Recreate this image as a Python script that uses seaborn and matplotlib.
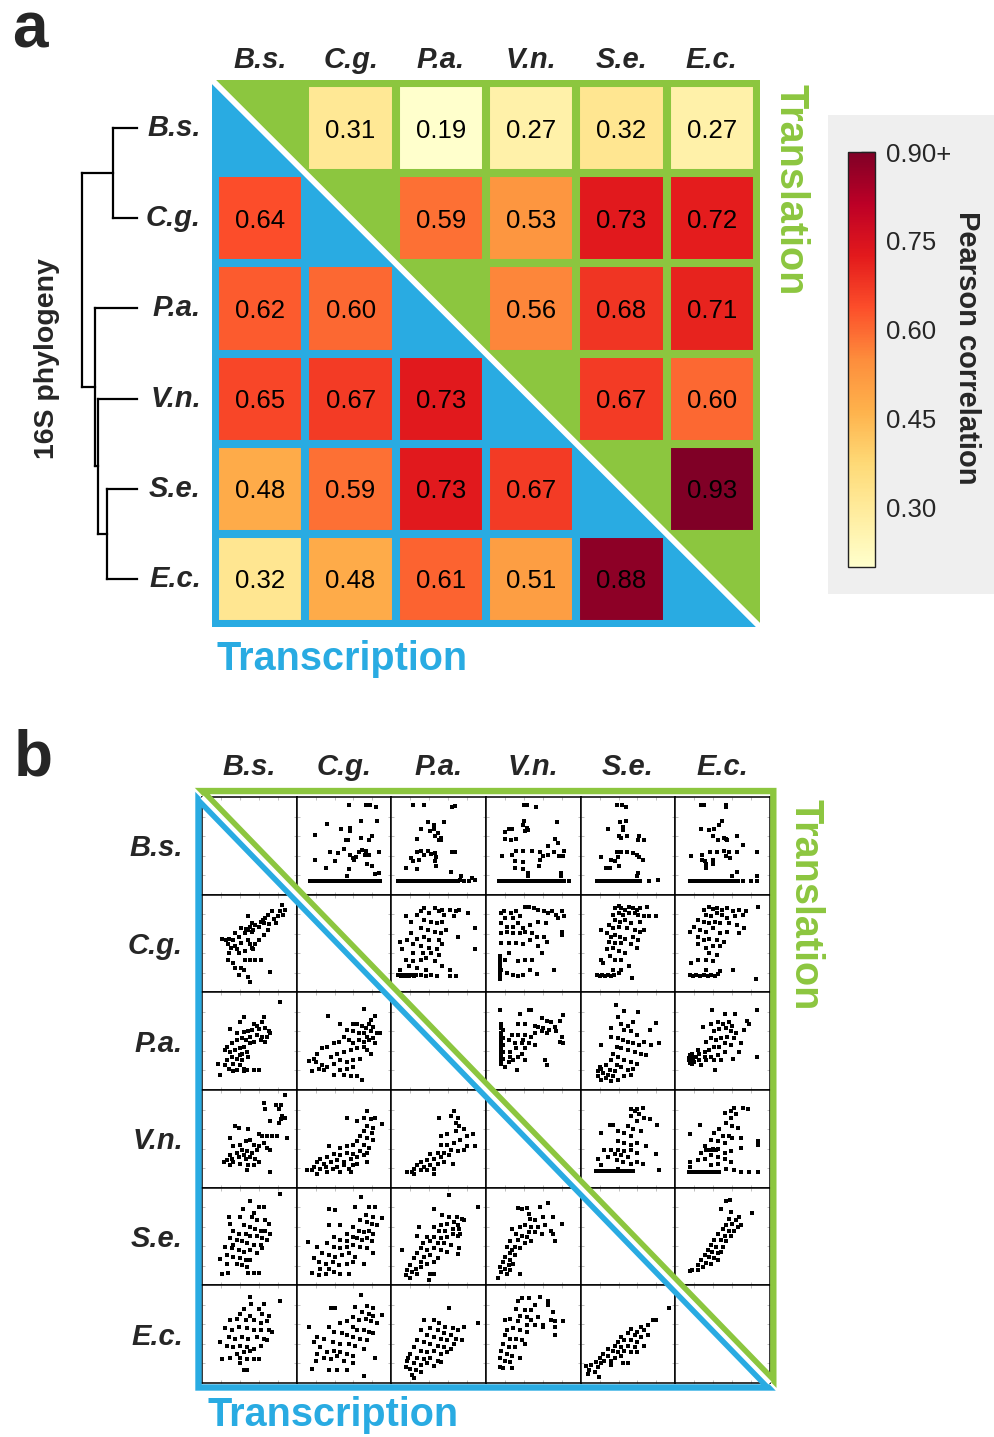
import numpy as np
import pandas as pd
import matplotlib
matplotlib.use("Agg")
import matplotlib.pyplot as plt
import seaborn as sns
from matplotlib.patches import Polygon, Rectangle
from matplotlib.collections import LineCollection

sns.set_style("white")
plt.rcParams["font.family"] = ["Liberation Sans", "DejaVu Sans"]

W, H = 995, 1437
GREEN = "#8CC63F"
BLUE = "#29ABE2"

species = ["B.s.", "C.g.", "P.a.", "V.n.", "S.e.", "E.c."]

# Pearson correlations, translation (upper triangle), row by row
tl_row_bs = [0.31, 0.19, 0.27, 0.32, 0.27]
tl_row_cg = [0.59, 0.53, 0.73, 0.72]
tl_row_pa = [0.56, 0.68, 0.71]
tl_row_vn = [0.67, 0.60]
tl_row_se = [0.93]
# Pearson correlations, transcription (lower triangle), row by row
tx_row_cg = [0.64]
tx_row_pa = [0.62, 0.60]
tx_row_vn = [0.65, 0.67, 0.73]
tx_row_se = [0.48, 0.59, 0.73, 0.67]
tx_row_ec = [0.32, 0.48, 0.61, 0.51, 0.88]

cbar_ticks = [0.30, 0.45, 0.60, 0.75, 0.90]
cbar_ticklabels = ["0.30", "0.45", "0.60", "0.75", "0.90+"]

# 16S tree: (child a, child b, merge height); new clusters numbered from 6
tree_merges = [(0, 1, 24), (4, 5, 30), (3, 7, 39), (2, 8, 42), (6, 9, 55)]

# Scatter clouds, "x,y" in percent of each panel (tl = translation, tx = transcription)
tl_bs_cg = ("55,92 73,92 77,92 84,90 32,72 68,75 85,75 47,67 56,68 56,65 19,61 80,60 68,58 54,56 52,56 76,56 "
            "35,44 44,43 50,47 56,41 59,38 63,39 66,44 69,46 73,45 76,41 87,44 72,41 61,36 19,35 41,34 74,31 "
            "80,29 31,27 55,26 87,22 83,21 53,19 14,14 16,14 18,14 20,14 22,14 24,14 26,14 28,14 30,14 33,14 "
            "36,14 38,14 40,14 42,14 44,14 46,14 48,14 50,14 52,14 54,14 56,14 58,14 60,14 62,14 64,14 66,14 "
            "70,14 72,14 74,14 77,14 80,14 82,14 84,14 86,14 88,14")
tl_bs_pa = ("23,92 34,92 64,90 67,91 39,74 56,74 45,71 31,67 41,65 45,67 49,63 46,60 52,58 50,56 52,56 27,57 "
            "39,45 42,42 46,43 47,39 31,45 34,41 27,44 64,44 67,44 21,38 23,34 29,36 46,34 15,27 27,26 47,29 "
            "63,23 74,19 85,17 7,14 9,14 11,14 13,14 15,14 17,14 19,14 21,14 23,14 25,14 27,14 29,14 31,14 "
            "33,14 35,14 37,14 39,14 41,14 43,14 45,14 47,14 49,14 51,14 53,14 55,14 57,14 59,14 61,14 63,14 "
            "65,14 67,14 70,14 73,15 77,14 82,14 88,15")
tl_bs_vn = ("40,92 43,92 53,90 40,75 39,71 43,68 41,65 44,66 24,67 27,67 20,64 75,74 20,57 26,56 32,57 73,57 "
            "76,53 66,50 39,45 32,45 27,41 17,40 49,45 57,44 60,40 72,44 77,40 82,45 81,40 65,41 31,34 39,33 "
            "57,35 56,29 31,27 39,26 44,22 44,19 79,22 79,19 14,14 16,14 18,14 20,14 22,14 24,14 26,14 28,14 "
            "30,14 32,14 34,14 36,14 38,14 40,14 42,14 44,14 46,14 48,14 50,14 52,14 54,14 56,14 58,14 60,14 "
            "62,14 65,14 70,14 74,14 78,14 82,14 88,14")
tl_bs_se = ("38,92 44,92 48,90 42,74 48,75 45,69 45,66 29,67 40,60 43,58 49,60 62,60 67,56 61,56 22,39 32,36 "
            "36,34 39,39 43,44 49,44 55,43 59,41 62,39 66,36 38,44 40,29 27,27 31,27 61,22 60,19 17,14 19,14 "
            "21,14 23,14 25,14 27,14 29,14 31,14 33,14 35,14 37,14 39,14 41,14 43,14 45,14 47,14 49,14 51,14 "
            "53,14 55,14 58,14 63,14 72,14 82,15")
tl_bs_ec = ("27,92 30,92 53,92 53,90 49,75 46,71 41,67 27,67 36,66 40,60 51,58 54,57 45,56 55,56 65,60 72,51 "
            "17,40 28,41 31,34 32,31 32,27 40,35 40,31 28,35 37,44 44,44 51,45 53,40 57,44 58,38 65,44 86,44 "
            "65,23 60,19 86,19 15,14 17,14 19,14 21,14 23,14 25,14 27,14 29,14 31,14 33,14 35,14 37,14 39,14 "
            "41,14 43,14 45,14 47,14 49,14 51,14 53,14 55,14 58,14 62,14 66,14 72,14 80,14 86,14")
tx_cg_bs = ("84,89 88,84 82,83 86,79 80,78 76,75 78,71 74,83 70,79 67,76 64,74 66,71 71,70 62,72 60,67 56,69 "
            "53,71 51,67 49,78 49,64 54,64 53,62 47,65 45,61 41,66 39,57 35,61 33,54 29,55 25,54 21,55 27,49 "
            "31,45 35,47 37,44 41,50 49,54 51,49 53,45 54,44 45,42 39,40 29,40 27,33 33,30 45,33 51,33 56,33 "
            "62,33 35,25 41,25 39,18 49,16 51,11 72,21 44,23 56,49 60,54 66,59 70,64")
tl_cg_pa = ("15,78 21,72 27,79 31,83 35,86 40,81 46,86 50,83 54,84 56,79 62,84 68,83 72,84 66,78 81,81 35,74 "
            "42,72 48,71 54,72 31,66 39,64 46,62 52,61 58,64 21,61 17,54 27,55 35,57 40,54 50,54 23,49 31,47 "
            "40,45 48,44 54,49 9,52 11,44 23,40 33,40 42,40 50,38 70,57 88,66 88,44 15,33 23,32 31,33 37,35 "
            "46,32 19,27 27,25 37,23 62,23 54,27 9,23 7,18 9,18 10,17 11,18 12,18 13,17 14,18 15,18 16,17 "
            "17,18 18,18 19,17 20,18 22,18 24,17 26,18 31,18 37,17 42,18 48,17 62,17 68,17")
tl_cg_vn = ("16,81 19,83 26,81 32,83 41,87 45,87 51,86 55,84 61,83 66,81 70,83 74,79 80,83 82,78 76,76 36,78 "
            "28,76 20,76 16,71 22,67 28,67 34,71 39,66 47,69 55,72 63,71 16,61 22,62 28,61 36,61 41,62 49,61 "
            "54,57 61,57 80,62 80,59 64,52 16,50 24,50 32,50 39,49 47,54 55,47 59,40 49,33 41,33 34,32 24,40 "
            "20,33 16,23 22,20 28,18 34,17 39,18 47,23 54,19 72,23 15,37 15,33 15,30 15,27 15,23 15,20 15,18 "
            "15,16 15,14")
tl_cg_se = ("36,86 40,88 43,86 47,84 51,87 55,86 59,84 63,86 70,87 51,81 57,81 61,79 67,78 72,78 80,78 34,79 "
            "40,81 45,79 36,74 42,72 47,74 53,71 63,72 30,69 34,66 40,67 49,66 57,64 63,62 67,64 22,64 28,61 "
            "32,57 36,59 42,57 47,55 55,57 61,54 30,52 36,50 43,50 53,49 59,45 28,44 34,45 40,42 47,40 31,37 "
            "36,33 43,33 22,33 24,30 51,27 54,15 34,23 17,18 20,17 23,18 26,17 29,18 32,17 35,18 40,20 43,23")
tl_cg_ec = ("30,84 36,87 40,85 44,86 49,84 55,86 61,83 67,84 75,83 87,87 32,79 38,78 44,81 49,79 55,76 63,78 "
            "71,79 24,74 30,72 36,71 42,72 47,71 57,71 65,69 73,66 20,67 26,64 32,62 40,66 47,61 55,62 67,61 "
            "15,62 24,57 30,54 36,55 44,54 51,52 24,49 32,45 40,47 47,47 36,40 44,38 32,33 40,32 24,33 17,30 "
            "61,23 85,14 32,23 15,18 19,17 22,18 26,17 30,18 34,17 38,18 42,17 45,19 47,22")
tx_pa_bs = ("82,90 44,75 40,70 65,75 63,70 58,66 55,68 30,62 37,58 44,59 49,60 53,61 60,62 67,63 71,60 72,58 "
            "69,54 63,54 58,56 51,54 46,51 42,53 37,51 32,48 26,44 24,41 30,39 35,41 40,43 44,44 51,48 55,49 "
            "62,51 67,49 40,36 37,32 42,31 32,34 26,31 24,26 33,27 40,26 44,22 48,20 55,20 60,20 37,20 19,15 "
            "17,27 28,22 33,19 44,19 49,34 48,39 42,37")
tx_pa_cg = ("33,76 71,83 83,76 79,72 76,68 81,65 73,63 69,66 64,68 59,68 53,61 60,60 66,58 71,58 74,54 78,60 "
            "85,58 88,58 81,53 76,51 71,49 66,51 60,48 55,51 50,54 45,49 39,48 32,44 27,43 22,37 18,32 13,30 "
            "20,29 27,26 32,24 29,20 24,22 16,19 36,34 43,37 50,39 57,41 64,43 71,44 74,41 46,31 53,29 60,31 "
            "67,32 39,27 46,20 53,22 60,24 39,15 50,15 57,14 64,14 69,10 78,37 83,48 46,68")
tl_pa_vn = ("15,82 45,82 48,82 36,78 59,74 69,70 81,77 78,71 64,71 34,68 41,68 52,66 55,65 60,63 67,61 73,64 "
            "74,60 80,54 78,49 81,48 59,60 64,58 52,58 48,54 41,56 34,56 27,56 24,51 31,48 38,48 45,48 52,46 "
            "41,43 32,43 25,39 38,37 34,34 29,31 24,29 41,31 62,31 64,26 33,20 20,24 25,34 39,51 16,68 16,63 "
            "16,58 16,54 16,51 16,48 16,44 16,41 16,37 16,34 16,31 16,27 18,61 18,53 18,46 18,39 18,32")
tl_pa_se = ("37,87 39,75 46,81 61,80 80,69 73,61 32,63 43,68 50,66 55,70 46,61 53,60 60,56 67,49 62,46 74,46 "
            "83,48 22,46 32,54 39,53 45,51 50,49 55,48 38,44 43,43 50,41 57,39 64,37 69,36 34,37 39,34 46,31 "
            "53,29 60,27 32,31 38,26 43,24 50,20 55,22 27,26 31,20 36,19 22,22 18,19 24,17 29,15 34,14 18,14 "
            "22,10 27,12 32,9 39,10 46,14 53,15 20,24")
tl_pa_ec = ("39,82 52,78 63,78 86,82 76,71 78,68 29,65 38,68 45,70 50,68 57,70 60,66 53,63 46,62 41,60 59,60 "
            "64,58 73,61 55,54 48,53 43,51 38,53 32,49 62,53 69,48 59,46 52,48 46,44 41,44 36,41 31,39 25,37 "
            "31,34 38,34 45,36 52,39 67,39 25,31 32,31 41,31 48,31 20,29 27,26 42,20 61,32 86,34 15,36 16,32 "
            "15,29 18,27 14,31 18,37 22,34 24,41 14,33 15,34 16,30 17,35 16,28 19,33")
tx_vn_bs = ("88,95 66,87 78,85 83,85 81,81 67,81 85,73 83,70 88,71 72,68 81,66 35,63 39,61 49,60 30,51 60,55 "
            "63,53 69,53 74,53 79,53 90,51 65,46 60,43 55,44 51,49 46,48 40,44 33,43 42,39 48,38 53,36 58,39 "
            "69,41 72,39 37,36 30,33 39,31 46,29 51,31 56,29 26,28 33,26 40,24 49,23 55,23 23,26 30,23 48,18 "
            "60,26 72,16 32,29 44,33")
tx_vn_cg = ("74,79 53,71 71,71 78,70 83,71 64,68 74,63 81,61 90,65 71,58 80,56 67,53 74,51 81,49 64,48 71,44 "
            "76,41 59,44 53,43 46,41 67,38 74,36 60,34 53,36 46,33 39,34 34,43 32,31 25,29 22,26 29,24 36,26 "
            "43,28 50,26 57,29 64,31 71,33 18,21 25,19 31,21 38,19 43,21 50,23 55,19 60,23 11,18 16,18 22,14 "
            "32,16 46,16 57,16 64,24 74,26")
tx_vn_pa = ("66,79 50,71 63,73 70,71 68,66 72,63 77,60 68,58 59,55 52,53 80,53 86,55 73,49 66,46 59,44 52,44 "
            "80,43 88,43 63,39 56,36 49,36 41,34 70,38 77,39 61,33 52,31 45,29 38,28 31,26 27,23 34,21 41,23 "
            "49,24 56,26 24,19 31,18 38,18 45,19 17,16 22,16 65,24 45,14 24,14")
tl_vn_se = ("53,81 60,81 66,82 57,78 62,75 53,73 67,71 59,68 73,70 50,63 55,60 64,58 46,56 53,53 39,58 31,64 "
            "34,64 22,56 39,48 46,46 53,44 60,46 69,43 32,39 39,39 46,38 53,39 59,36 36,34 43,33 50,31 29,31 "
            "25,39 38,28 45,26 53,24 60,26 66,24 18,29 22,23 81,64 80,34 83,18 39,19 16,17 19,17 22,17 24,17 "
            "27,17 29,17 32,17 35,17 37,17 40,17 43,17 46,17 48,17 51,17 55,17")
tl_vn_ec = ("62,82 71,82 77,81 59,78 52,76 64,75 59,71 53,66 60,63 66,61 46,60 41,56 50,53 57,53 60,51 69,51 "
            "26,64 16,55 38,49 45,48 52,46 31,43 36,39 41,39 45,40 32,39 27,36 52,36 59,38 38,33 45,31 52,29 "
            "59,26 31,29 24,28 16,26 15,21 87,48 87,44 69,41 62,18 69,16 78,16 87,16 38,23 45,24 53,19 34,39 "
            "38,39 40,40 43,39 14,16 16,16 19,16 22,16 25,16 29,16 32,16 36,16 39,16 43,16 46,16")
tx_se_bs = ("82,94 51,86 43,78 55,74 60,80 65,80 28,70 40,70 53,70 58,67 67,67 71,63 30,63 44,62 51,60 56,58 "
            "62,56 67,56 72,53 33,56 39,53 46,53 51,51 58,51 63,48 69,46 30,48 37,46 42,45 48,43 55,41 62,41 "
            "24,39 32,38 39,36 44,34 51,36 58,33 26,31 33,29 40,28 46,26 51,26 37,22 42,21 48,19 19,27 26,22 "
            "21,12 27,13 49,13 55,13 60,13 63,38 33,41")
tx_se_cg = ("68,90 34,78 41,77 62,80 76,80 83,80 73,72 81,70 90,69 67,67 74,65 80,63 85,62 46,62 34,62 60,60 "
            "66,56 71,55 76,56 81,53 53,53 59,50 64,48 69,46 74,48 80,45 39,50 46,46 53,45 32,43 39,39 46,38 "
            "53,39 60,41 67,39 74,38 12,44 22,39 27,33 34,31 41,29 48,31 55,33 62,29 71,22 18,28 24,24 31,22 "
            "38,24 45,21 53,22 60,24 16,13 24,11 31,12 39,14 46,12 55,12 25,17 34,17 81,33")
tx_se_pa = ("61,93 92,80 45,78 54,72 61,70 69,70 75,68 77,67 66,65 59,63 52,62 70,62 72,58 65,58 57,56 50,56 "
            "45,60 29,60 27,51 38,50 45,50 52,48 59,50 65,53 70,51 73,53 41,45 49,43 56,43 63,41 33,43 31,38 "
            "38,36 45,38 52,36 59,34 72,38 70,32 27,33 34,29 41,31 49,28 24,28 31,24 38,22 45,24 20,21 26,17 "
            "31,19 17,16 22,14 27,12 15,11 20,7 41,12 45,12 11,36 40,5")
tx_se_vn = ("34,79 38,78 43,79 57,80 66,84 45,73 46,68 52,67 60,70 71,70 80,63 41,62 48,60 55,60 62,62 69,56 "
            "71,53 73,45 59,53 52,55 45,55 36,60 27,58 32,53 38,51 43,50 48,45 34,46 41,43 25,45 31,39 36,38 "
            "22,39 25,33 31,31 20,29 25,26 29,22 18,24 15,19 20,17 25,16 16,14 22,12 36,12 13,7 24,21 27,36")
tl_se_ec = ("53,86 58,87 48,78 59,75 81,74 67,70 64,67 57,68 60,63 69,62 53,62 50,58 57,56 62,56 45,53 52,51 "
            "59,51 41,46 48,46 53,45 38,41 43,39 50,39 48,34 34,36 39,34 45,33 31,31 36,29 41,28 27,26 32,23 "
            "38,22 24,21 29,19 18,16 24,16 16,15 45,26 66,60")
tx_ec_bs = ("51,88 82,84 52,81 65,81 44,76 60,76 40,71 51,69 63,71 71,69 30,64 37,66 46,64 55,64 62,61 69,63 "
            "24,56 32,54 39,57 48,56 55,54 62,54 71,54 74,52 28,47 35,45 42,47 49,45 58,47 65,45 19,42 26,38 "
            "33,37 40,38 48,37 55,35 62,38 37,30 44,32 51,33 21,25 30,26 40,26 48,25 55,25 60,25 40,20 44,13 "
            "48,13 69,44")
tx_ec_cg = ("68,90 36,77 41,77 62,78 74,79 81,77 69,73 76,71 81,69 90,70 60,68 66,64 73,66 78,63 85,61 53,63 "
            "46,61 34,57 13,57 59,57 64,54 71,54 76,52 81,51 39,52 48,51 53,49 60,47 67,45 74,44 22,47 29,45 "
            "38,42 46,40 55,40 62,38 71,35 18,42 25,37 32,32 39,33 46,32 53,30 60,28 22,30 29,26 36,25 43,28 "
            "50,23 59,20 83,26 16,14 34,13 43,13 53,13 71,7 20,23")
tx_ec_pa = ("61,77 92,61 34,64 45,65 50,61 57,57 65,56 70,54 77,57 41,56 49,54 56,51 63,49 68,45 75,44 31,54 "
            "38,49 45,47 52,45 59,44 66,40 27,44 34,42 41,40 49,38 56,37 63,35 24,37 31,33 38,32 45,33 52,30 "
            "59,32 20,30 27,26 34,25 41,26 49,23 17,23 24,20 31,18 38,20 45,17 15,16 20,14 26,13 31,11 22,8 "
            "24,5 52,21 18,26")
tx_ec_vn = ("34,84 38,87 45,87 57,88 66,84 66,80 32,76 41,75 48,75 52,80 36,69 43,68 48,64 55,68 71,73 69,64 "
            "73,63 81,63 60,59 52,59 43,59 34,63 25,66 20,64 22,54 29,56 36,54 43,52 60,57 73,57 73,49 20,49 "
            "25,45 32,45 38,44 18,40 24,37 31,37 16,33 22,30 27,28 15,26 20,23 25,21 15,16 18,15 27,15 36,26 "
            "41,40")
tx_ec_se = ("93,77 76,64 80,65 71,59 64,57 53,55 60,52 67,54 50,51 57,49 64,47 71,49 43,47 46,44 53,44 60,42 "
            "67,38 39,42 36,38 43,37 50,38 57,37 29,35 34,33 39,32 46,33 53,32 24,30 29,28 36,26 43,28 20,26 "
            "25,23 32,23 16,21 22,20 11,18 18,16 6,17 9,13 15,11 8,9 19,6 45,20 50,20 32,18 59,32")


def parse_points(s):
    arr = np.array([p.split(",") for p in s.split()], dtype=float)
    return arr[:, 0], arr[:, 1]


fig = plt.figure(figsize=(W / 100, H / 100), dpi=100)


def px_axes(x0, y0, x1, y1):
    return fig.add_axes([x0 / W, 1 - y1 / H, (x1 - x0) / W, (y1 - y0) / H])


def fx(x):
    return x / W


def fy(y):
    return 1 - y / H


# ---------------- panel a: correlation heatmap ----------------
corr = np.full((6, 6), np.nan)
for i, row in enumerate([tl_row_bs, tl_row_cg, tl_row_pa, tl_row_vn, tl_row_se]):
    corr[i, i + 1:] = row
for i, row in enumerate([tx_row_cg, tx_row_pa, tx_row_vn, tx_row_se, tx_row_ec], start=1):
    corr[i, :i] = row
corr_df = pd.DataFrame(corr, index=species, columns=species)

# grey panel behind the colour bar
fig.add_artist(Rectangle((fx(828), fy(594)), (995 - 828) / W, (594 - 115) / H,
                         transform=fig.transFigure, facecolor="#efefef", edgecolor="none", zorder=-1))

hm_ax = px_axes(212, 80, 760, 627)
cb_ax = px_axes(848, 152, 875, 567)
sns.heatmap(corr_df, mask=np.eye(6, dtype=bool), cmap="YlOrRd", vmin=0.2, vmax=0.9,
            annot=True, fmt=".2f",
            annot_kws={"color": "black", "fontsize": 18.5, "va": "center_baseline"},
            linewidths=0, cbar_ax=cb_ax, ax=hm_ax)
hm_ax.set_facecolor("none")

lo, hi = -0.035, 6.035
green_tri = Polygon([(lo, lo), (hi, lo), (hi, hi)], closed=True, facecolor=GREEN,
                    edgecolor="none", zorder=0.5)
blue_tri = Polygon([(lo, lo), (lo, hi), (hi, hi)], closed=True, facecolor=BLUE,
                   edgecolor="none", zorder=0.5)
hm_ax.add_patch(green_tri)
hm_ax.add_patch(blue_tri)
segs = [[(k, lo), (k, hi)] for k in range(7)] + [[(lo, k), (hi, k)] for k in range(7)]
for tri, col in ((green_tri, GREEN), (blue_tri, BLUE)):
    lc = LineCollection(segs, colors=col, linewidths=5.8, zorder=2)
    hm_ax.add_collection(lc)
    lc.set_clip_path(tri)
hm_ax.plot([lo, hi], [lo, hi], color="white", lw=4.2, zorder=2.5, solid_capstyle="butt")
hm_ax.set_xlim(lo, hi)
hm_ax.set_ylim(hi, lo)
for sp in hm_ax.spines.values():
    sp.set_visible(False)

hm_ax.xaxis.tick_top()
hm_ax.set_xticks(np.arange(6) + 0.5)
hm_ax.set_xticklabels(species, rotation=0, fontsize=21, fontweight="bold", fontstyle="italic")
hm_ax.set_yticks(np.arange(6) + 0.5)
hm_ax.set_yticklabels(species, rotation=0, fontsize=21, fontweight="bold", fontstyle="italic")
hm_ax.tick_params(axis="both", length=0)
hm_ax.tick_params(axis="x", pad=4)
hm_ax.tick_params(axis="y", pad=8)
hm_ax.set_xlabel("")
hm_ax.set_ylabel("")

cbar = hm_ax.collections[0].colorbar
cbar.set_ticks(cbar_ticks)
cbar.set_ticklabels(cbar_ticklabels)
cbar.outline.set_linewidth(1.0)
cbar.outline.set_edgecolor("#222222")
cb_ax.tick_params(direction="in", length=10, width=1, labelsize=18.5, pad=8, color="#333333")

# dendrogram (16S phylogeny)
dg_ax = px_axes(60, 80, 137, 627)
ypos = {k: k + 0.5 for k in range(6)}
hgt = {k: 0 for k in range(6)}
for n, (a, b, h) in enumerate(tree_merges):
    node = 6 + n
    for c in (a, b):
        dg_ax.plot([hgt[c], h], [ypos[c], ypos[c]], color="black", lw=1.6,
                   solid_capstyle="projecting", clip_on=False)
    dg_ax.plot([h, h], [ypos[a], ypos[b]], color="black", lw=1.6,
               solid_capstyle="projecting", clip_on=False)
    ypos[node] = (ypos[a] + ypos[b]) / 2
    hgt[node] = h
dg_ax.set_xlim(77, 0)
dg_ax.set_ylim(hi, lo)
dg_ax.axis("off")

fig.text(fx(47), fy(359), "16S phylogeny", rotation=90, ha="center", va="center",
         fontsize=20.5, fontweight="bold")
fig.text(fx(12), fy(47), "a", ha="left", va="baseline", fontsize=46, fontweight="bold")
fig.text(fx(791), fy(190), "Translation", rotation=270, ha="center", va="center",
         fontsize=28.5, fontweight="bold", color=GREEN)
fig.text(fx(342), fy(670), "Transcription", ha="center", va="baseline",
         fontsize=28.5, fontweight="bold", color=BLUE)
fig.text(fx(967), fy(348), "Pearson correlation", rotation=270, ha="center", va="center",
         fontsize=21, fontweight="bold")

# ---------------- panel b: scatter matrix ----------------
cells = {
    (0, 1): tl_bs_cg, (0, 2): tl_bs_pa, (0, 3): tl_bs_vn, (0, 4): tl_bs_se, (0, 5): tl_bs_ec,
    (1, 0): tx_cg_bs, (1, 2): tl_cg_pa, (1, 3): tl_cg_vn, (1, 4): tl_cg_se, (1, 5): tl_cg_ec,
    (2, 0): tx_pa_bs, (2, 1): tx_pa_cg, (2, 3): tl_pa_vn, (2, 4): tl_pa_se, (2, 5): tl_pa_ec,
    (3, 0): tx_vn_bs, (3, 1): tx_vn_cg, (3, 2): tx_vn_pa, (3, 4): tl_vn_se, (3, 5): tl_vn_ec,
    (4, 0): tx_se_bs, (4, 1): tx_se_cg, (4, 2): tx_se_pa, (4, 3): tx_se_vn, (4, 5): tl_se_ec,
    (5, 0): tx_ec_bs, (5, 1): tx_ec_cg, (5, 2): tx_ec_pa, (5, 3): tx_ec_vn, (5, 4): tx_ec_se,
}
CX0, CY0 = 202, 797
CW, CH = 568 / 6, 586 / 6
for i in range(6):
    for j in range(6):
        ax = px_axes(CX0 + j * CW, CY0 + i * CH, CX0 + (j + 1) * CW, CY0 + (i + 1) * CH)
        if (i, j) in cells:
            xs, ys = parse_points(cells[(i, j)])
            sns.scatterplot(x=xs, y=ys, ax=ax, color="black", marker="s", s=5,
                            linewidth=0, legend=False)
        ax.set_xlim(0, 100)
        ax.set_ylim(0, 100)
        ax.set_xticks([20, 40, 60, 80])
        ax.set_yticks([20, 40, 60, 80])
        ax.tick_params(direction="in", length=2.5, width=0.6, color="#b5b5b5",
                       bottom=True, top=True, left=True, right=True,
                       labelbottom=False, labelleft=False)
        ax.set_xlabel("")
        ax.set_ylabel("")
        for sp in ax.spines.values():
            sp.set_visible(True)
            sp.set_color("black")
            sp.set_linewidth(1.1)

ov = px_axes(CX0, CY0, CX0 + 6 * CW, CY0 + 6 * CH)
ov.set_xlim(0, 6)
ov.set_ylim(6, 0)
ov.axis("off")
ov.patch.set_visible(False)
ov.set_zorder(5)
ov.plot([0, 6], [0, 6], color="white", lw=3, clip_on=False, solid_capstyle="butt")
ov.add_patch(Polygon([(-0.037, 0.028), (-0.037, 6.046), (5.981, 6.046)], closed=True,
                     fill=False, edgecolor=BLUE, lw=4.6, joinstyle="miter", clip_on=False))
ov.add_patch(Polygon([(0.004, -0.061), (6.035, -0.061), (6.035, 5.970)], closed=True,
                     fill=False, edgecolor=GREEN, lw=4.6, joinstyle="miter", clip_on=False))

for j, name in enumerate(species):
    fig.text(fx(CX0 + (j + 0.5) * CW), fy(775), name, ha="center", va="baseline",
             fontsize=21, fontweight="bold", fontstyle="italic")
for i, name in enumerate(species):
    fig.text(fx(183), fy(CY0 + (i + 0.5) * CH + 10.5), name, ha="right", va="baseline",
             fontsize=21, fontweight="bold", fontstyle="italic")

fig.text(fx(14), fy(775), "b", ha="left", va="baseline", fontsize=46, fontweight="bold")
fig.text(fx(806), fy(905), "Translation", rotation=270, ha="center", va="center",
         fontsize=28.5, fontweight="bold", color=GREEN)
fig.text(fx(333), fy(1426), "Transcription", ha="center", va="baseline",
         fontsize=28.5, fontweight="bold", color=BLUE)

fig.savefig("out.png", dpi=100)
